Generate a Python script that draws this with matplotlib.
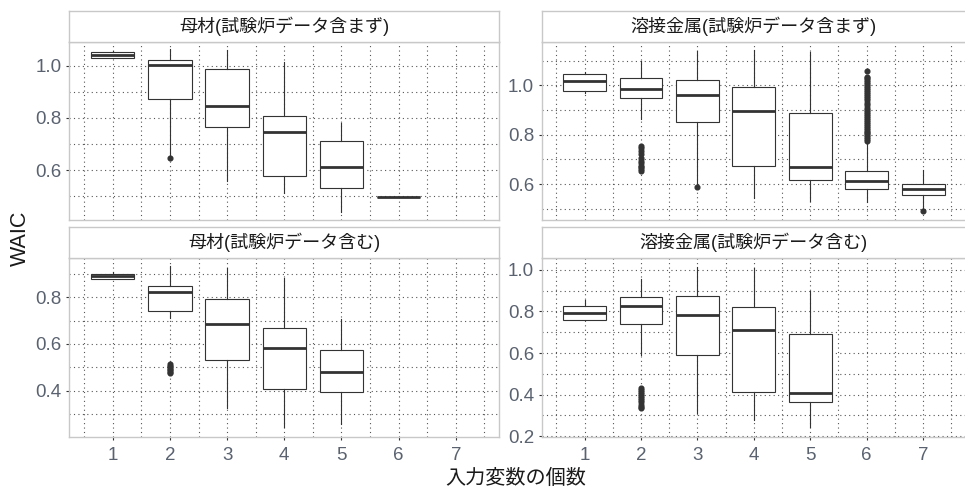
import matplotlib
matplotlib.use('Agg')
import matplotlib.pyplot as plt

plt.rcParams['font.family'] = ['Liberation Sans', 'Noto Sans CJK JP', 'DejaVu Sans']

W, H = 965, 494

# ============================================================
# Data
# ============================================================
titles = ['母材(試験炉データ含まず)', '溶接金属(試験炉データ含まず)',
          '母材(試験炉データ含む)', '溶接金属(試験炉データ含む)']

# Top left: 母材, without test reactor data
tl_pos = [1, 2, 3, 4, 5, 6]
tl_whislo = [1.028, 0.655, 0.558, 0.514, 0.440, 0.499]
tl_q1 = [1.028, 0.872, 0.765, 0.578, 0.533, 0.499]
tl_med = [1.040, 1.004, 0.847, 0.746, 0.613, 0.499]
tl_q3 = [1.050, 1.020, 0.985, 0.808, 0.710, 0.499]
tl_whishi = [1.057, 1.062, 1.058, 1.013, 0.782, 0.499]
tl_fliers = [[], [0.645], [], [], [], []]

# Top right: 溶接金属, without test reactor data
tr_pos = [1, 2, 3, 4, 5, 6, 7]
tr_whislo = [0.968, 0.863, 0.600, 0.546, 0.531, 0.526, 0.498]
tr_q1 = [0.977, 0.947, 0.850, 0.673, 0.615, 0.581, 0.558]
tr_med = [1.019, 0.985, 0.962, 0.894, 0.669, 0.612, 0.581]
tr_q3 = [1.044, 1.031, 1.020, 0.993, 0.886, 0.655, 0.600]
tr_whishi = [1.052, 1.097, 1.137, 1.141, 1.135, 0.766, 0.659]
tr_fliers = [[],
             [0.755, 0.745, 0.735, 0.72, 0.705, 0.695, 0.685, 0.675, 0.668, 0.66, 0.652],
             [0.589],
             [], [],
             [0.775, 0.782, 0.79, 0.797, 0.805, 0.812, 0.82, 0.828, 0.836, 0.844,
              0.852, 0.86, 0.868, 0.876, 0.884, 0.892, 0.90, 0.91, 0.92, 0.93,
              0.94, 0.948, 0.956, 0.964, 0.972, 0.98, 0.988, 0.996, 1.004,
              1.012, 1.02, 1.028, 1.035, 1.059],
             [0.490]]

# Bottom left: 母材, with test reactor data
bl_pos = [1, 2, 3, 4, 5]
bl_whislo = [0.879, 0.710, 0.327, 0.243, 0.256]
bl_q1 = [0.879, 0.740, 0.531, 0.407, 0.396]
bl_med = [0.890, 0.821, 0.684, 0.582, 0.481]
bl_q3 = [0.900, 0.847, 0.794, 0.667, 0.573]
bl_whishi = [0.910, 0.934, 0.927, 0.881, 0.707]
bl_fliers = [[], [0.515, 0.507, 0.50, 0.494, 0.488, 0.482, 0.477], [], [], []]

# Bottom right: 溶接金属, with test reactor data
br_pos = [1, 2, 3, 4, 5]
br_whislo = [0.757, 0.590, 0.309, 0.277, 0.245]
br_q1 = [0.760, 0.741, 0.592, 0.413, 0.365]
br_med = [0.791, 0.825, 0.785, 0.709, 0.409]
br_q3 = [0.828, 0.868, 0.875, 0.822, 0.693]
br_whishi = [0.855, 0.957, 1.016, 1.011, 0.900]
br_fliers = [[], [0.432, 0.422, 0.412, 0.402, 0.392, 0.382, 0.372, 0.362, 0.352, 0.342, 0.336],
             [], [], []]

x_ticks = [1, 2, 3, 4, 5, 6, 7]

# ============================================================
# Layout helpers
# ============================================================
fig = plt.figure(figsize=(W / 100, H / 100), dpi=100)

def px_axes(l, t, r, b):
    return fig.add_axes([l / W, 1 - b / H, (r - l) / W, (b - t) / H])

border = '#C8C8C8'
ink = '#333333'
tick_col = '#5A6270'

def draw_panel(box, strip, title, pos, wlo, q1, med, q3, whi, fliers,
               ylim, yticks, yminor, show_x):
    ax = px_axes(*box)
    stats = []
    for i in range(len(pos)):
        stats.append(dict(whislo=wlo[i], q1=q1[i], med=med[i], q3=q3[i],
                          whishi=whi[i], fliers=fliers[i]))
    ax.bxp(stats, positions=pos, widths=0.76, patch_artist=True,
           showcaps=False, showfliers=True,
           boxprops=dict(facecolor='white', edgecolor=ink, linewidth=0.8),
           whiskerprops=dict(color=ink, linewidth=0.8),
           medianprops=dict(color=ink, linewidth=2.0),
           flierprops=dict(marker='o', markerfacecolor=ink, markeredgecolor=ink,
                           markersize=3.4, linestyle='none'))
    ax.set_xlim(0.24, 7.76)
    ax.set_ylim(*ylim)
    ax.set_xticks(x_ticks)
    ax.set_xticks([x - 0.5 for x in x_ticks] + [7.5], minor=True)
    ax.set_yticks(yticks)
    ax.set_yticks(yminor, minor=True)
    ax.set_yticklabels([f'{v:.1f}' for v in yticks])
    ax.set_axisbelow(True)
    ax.grid(which='both', linestyle=(0, (1, 3)), color='#555555', linewidth=0.8)
    for s in ax.spines.values():
        s.set_color(border)
        s.set_linewidth(1.0)
    ax.tick_params(which='minor', length=0)
    ax.tick_params(axis='y', which='major', length=2.2, width=0.8, color=ink,
                   labelsize=13.5, labelcolor=tick_col, pad=3.3)
    if show_x:
        ax.set_xticklabels([str(x) for x in x_ticks])
        ax.tick_params(axis='x', which='major', length=2.2, width=0.8, color=ink,
                       labelsize=13.5, labelcolor=tick_col, pad=5)
    else:
        ax.tick_params(axis='x', which='major', length=0, labelbottom=False)

    sax = px_axes(*strip)
    sax.set_xticks([])
    sax.set_yticks([])
    for s in sax.spines.values():
        s.set_color(border)
        s.set_linewidth(1.0)
    sax.text(0.5, 0.5, title, ha='center', va='center', fontsize=13,
             color='#1A1A1A', transform=sax.transAxes)
    return ax

L1, R1 = 69.3, 499.3
L2, R2 = 541.7, 966
T1, B1 = 42, 220
T2, B2 = 258.3, 436.7

draw_panel((L1, T1, R1, B1), (L1, 11, R1, T1), titles[0],
           tl_pos, tl_whislo, tl_q1, tl_med, tl_q3, tl_whishi, tl_fliers,
           (0.41, 1.09), [0.6, 0.8, 1.0], [0.5, 0.7, 0.9], False)
draw_panel((L2, T1, R2, B1), (L2, 11, R2, T1), titles[1],
           tr_pos, tr_whislo, tr_q1, tr_med, tr_q3, tr_whishi, tr_fliers,
           (0.455, 1.175), [0.6, 0.8, 1.0], [0.5, 0.7, 0.9, 1.1], False)
draw_panel((L1, T2, R1, B2), (L1, 227.3, R1, T2), titles[2],
           bl_pos, bl_whislo, bl_q1, bl_med, bl_q3, bl_whishi, bl_fliers,
           (0.203, 0.967), [0.4, 0.6, 0.8], [0.3, 0.5, 0.7, 0.9], True)
draw_panel((L2, T2, R2, B2), (L2, 227.3, R2, T2), titles[3],
           br_pos, br_whislo, br_q1, br_med, br_q3, br_whishi, br_fliers,
           (0.197, 1.056), [0.2, 0.4, 0.6, 0.8, 1.0], [0.3, 0.5, 0.7, 0.9], True)

fig.text(516 / W, 1 - 478 / H, '入力変数の個数', ha='center', va='center',
         fontsize=14.5, color='#1A1A1A')
fig.text(20 / W, 1 - 238 / H, 'WAIC', ha='center', va='center', rotation=90,
         fontsize=15.5, color='#1A1A1A')

plt.savefig('out.png', dpi=100)
print("Saved: out.png")
plt.close()
